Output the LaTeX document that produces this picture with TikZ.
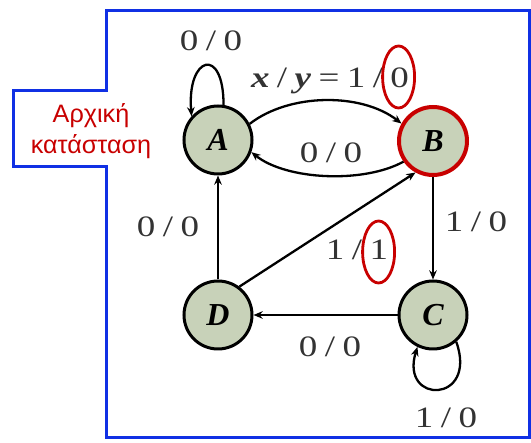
\documentclass[tikz,border=0pt]{standalone}
\usepackage{graphicx}
\usepackage{fontspec}
\setmainfont{Liberation Serif}
\newfontfamily\greeksans{Liberation Sans}
\usetikzlibrary{arrows.meta, shapes.geometric}
\definecolor{framebl}{RGB}{16,48,228}
\definecolor{markred}{RGB}{200,0,0}
\definecolor{statefill}{RGB}{200,210,185}
\newcommand{\ioslash}{\hspace{0.2em}/\hspace{0.2em}}
\newcommand{\widetxt}[1]{\scalebox{1.25}[1]{#1}}

\begin{document}
\begin{tikzpicture}[x=0.5pt, y=-0.5pt,
    state/.style={draw, circle, line width=1.5pt, fill=statefill,
      minimum size=34pt, inner sep=0pt,
      font=\fontsize{16}{18}\selectfont\bfseries\itshape},
    marked/.style={draw=markred, line width=2pt},
    arrow/.style={-{Stealth[length=4.6pt, width=3.8pt]}, line width=1.15pt},
    lab/.style={text=black!80, inner sep=1pt, font=\fontsize{14.8}{16}\selectfont},
    ring/.style={draw=markred, ellipse, line width=1.4pt, inner sep=0pt,
      minimum width=16pt, minimum height=31pt}
  ]
  \useasboundingbox (0,0) rectangle (531,443);
  % frame with the notch for the initial-state note
  \draw[framebl, line width=1.5pt] (106.5,10.5) -- (529.5,10.5)
    -- (529.5,437.5) -- (106.5,437.5) -- (106.5,167) -- (13,167)
    -- (13,91) -- (106.5,91) -- cycle;
  \node[text=markred, align=center,
    font=\greeksans\fontsize{12.6}{15.2}\selectfont] at (91,131) (initlab)
    {Αρχική\\κατάσταση};

  \node[state] at (218,140) (A) {A};
  \node[state, marked] at (433,141) (B) {B};
  \node[state] at (433,315) (C) {C};
  \node[state] at (218,315) (D) {D};

  \draw[arrow] (A.81) .. controls +(0,-60) and +(-5,-60) .. (A.138);
  \draw[arrow] (A.27) .. controls +(40,-31) and +(-40,-31) .. (B.151);
  \draw[arrow] (B.215) .. controls +(-40,22) and +(35,28) .. (A.340);
  \draw[arrow] (B) -- (C);
  \draw[arrow] (D) -- (A);
  \draw[arrow] (C) -- (D);
  \draw[arrow] (D.53) -- (B.241);
  \draw[arrow] (C.311) .. controls +(22,62) and +(-18,58) .. (C.244);

  \node[lab] at (211,41) (lA) {\widetxt{0\ioslash0}};
  \node[lab] at (330,81) (lAB) {\widetxt{\textbf{\textit{x}}\ioslash
    \textbf{\textit{y}}\hspace{0.2em}=\hspace{0.2em}1\ioslash0}};
  \node[lab] at (331,153) (lBA) {\widetxt{0\ioslash0}};
  \node[lab] at (168,227) (lDA) {\widetxt{0\ioslash0}};
  \node[lab] at (476,222) (lBC) {\widetxt{1\ioslash0}};
  \node[lab] at (357,250) (lDB) {\widetxt{1\ioslash1}};
  \node[lab] at (330,347) (lCD) {\widetxt{0\ioslash0}};
  \node[lab] at (446,418) (lCC) {\widetxt{1\ioslash0}};

  \node[ring] at (398.6,77) (hlAB) {};
  \node[ring] at (378.6,252) (hlDB) {};
\end{tikzpicture}
\end{document}
